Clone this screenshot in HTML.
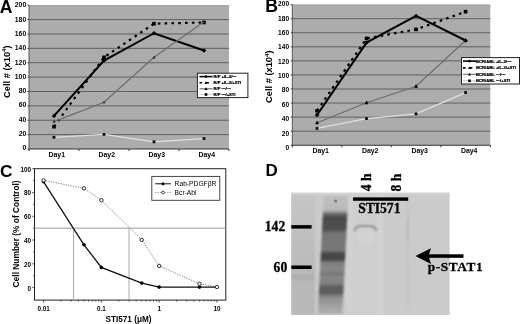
<!DOCTYPE html>
<html><head><meta charset="utf-8"><style>
html,body{margin:0;padding:0;background:#fff;}
svg{display:block;}
</style></head><body>
<svg width="520" height="324" viewBox="0 0 520 324">
<defs><filter id="soft" x="0" y="0" width="100%" height="100%"><feGaussianBlur stdDeviation="0.3"/></filter></defs>
<g filter="url(#soft)">
<rect width="520" height="324" fill="#fff"/>
<text x="-0.3" y="13.0" font-family='"Liberation Sans", Arial, sans-serif' font-weight="bold" font-size="17.6">A</text>
<rect x="29" y="5.2" width="200" height="143.8" fill="#acacac"/>
<line x1="29" y1="5.6000000000000005" x2="229" y2="5.6000000000000005" stroke="#9a9a9a" stroke-width="0.8"/>
<line x1="29" y1="134.62" x2="229" y2="134.62" stroke="#606060" stroke-width="1"/>
<line x1="29" y1="120.24" x2="229" y2="120.24" stroke="#606060" stroke-width="1"/>
<line x1="29" y1="105.86" x2="229" y2="105.86" stroke="#606060" stroke-width="1"/>
<line x1="29" y1="91.48" x2="229" y2="91.48" stroke="#606060" stroke-width="1"/>
<line x1="29" y1="77.10" x2="229" y2="77.10" stroke="#606060" stroke-width="1"/>
<line x1="29" y1="62.72" x2="229" y2="62.72" stroke="#606060" stroke-width="1"/>
<line x1="29" y1="48.34" x2="229" y2="48.34" stroke="#606060" stroke-width="1"/>
<line x1="29" y1="33.96" x2="229" y2="33.96" stroke="#606060" stroke-width="1"/>
<line x1="29" y1="19.58" x2="229" y2="19.58" stroke="#606060" stroke-width="1"/>
<line x1="29" y1="5.2" x2="29" y2="149" stroke="#555" stroke-width="1"/>
<line x1="29" y1="149" x2="229" y2="149" stroke="#333" stroke-width="1.2"/>
<line x1="27.5" y1="149.00" x2="29" y2="149.00" stroke="#333" stroke-width="1"/>
<text x="26.2" y="150.13" text-anchor="end" font-family='"Liberation Sans", Arial, sans-serif' font-weight="bold" font-size="6.8">0</text>
<line x1="27.5" y1="134.62" x2="29" y2="134.62" stroke="#333" stroke-width="1"/>
<text x="26.2" y="135.86" text-anchor="end" font-family='"Liberation Sans", Arial, sans-serif' font-weight="bold" font-size="6.8">20</text>
<line x1="27.5" y1="120.24" x2="29" y2="120.24" stroke="#333" stroke-width="1"/>
<text x="26.2" y="121.59" text-anchor="end" font-family='"Liberation Sans", Arial, sans-serif' font-weight="bold" font-size="6.8">40</text>
<line x1="27.5" y1="105.86" x2="29" y2="105.86" stroke="#333" stroke-width="1"/>
<text x="26.2" y="107.32" text-anchor="end" font-family='"Liberation Sans", Arial, sans-serif' font-weight="bold" font-size="6.8">60</text>
<line x1="27.5" y1="91.48" x2="29" y2="91.48" stroke="#333" stroke-width="1"/>
<text x="26.2" y="93.05" text-anchor="end" font-family='"Liberation Sans", Arial, sans-serif' font-weight="bold" font-size="6.8">80</text>
<line x1="27.5" y1="77.10" x2="29" y2="77.10" stroke="#333" stroke-width="1"/>
<text x="26.2" y="78.78" text-anchor="end" font-family='"Liberation Sans", Arial, sans-serif' font-weight="bold" font-size="6.8">100</text>
<line x1="27.5" y1="62.72" x2="29" y2="62.72" stroke="#333" stroke-width="1"/>
<text x="26.2" y="64.51" text-anchor="end" font-family='"Liberation Sans", Arial, sans-serif' font-weight="bold" font-size="6.8">120</text>
<line x1="27.5" y1="48.34" x2="29" y2="48.34" stroke="#333" stroke-width="1"/>
<text x="26.2" y="50.24" text-anchor="end" font-family='"Liberation Sans", Arial, sans-serif' font-weight="bold" font-size="6.8">140</text>
<line x1="27.5" y1="33.96" x2="29" y2="33.96" stroke="#333" stroke-width="1"/>
<text x="26.2" y="35.97" text-anchor="end" font-family='"Liberation Sans", Arial, sans-serif' font-weight="bold" font-size="6.8">160</text>
<line x1="27.5" y1="19.58" x2="29" y2="19.58" stroke="#333" stroke-width="1"/>
<text x="26.2" y="21.70" text-anchor="end" font-family='"Liberation Sans", Arial, sans-serif' font-weight="bold" font-size="6.8">180</text>
<line x1="27.5" y1="5.20" x2="29" y2="5.20" stroke="#333" stroke-width="1"/>
<text x="26.2" y="7.43" text-anchor="end" font-family='"Liberation Sans", Arial, sans-serif' font-weight="bold" font-size="6.8">200</text>
<line x1="29.00" y1="149" x2="29.00" y2="151" stroke="#333" stroke-width="1"/>
<line x1="79.00" y1="149" x2="79.00" y2="151" stroke="#333" stroke-width="1"/>
<line x1="129.00" y1="149" x2="129.00" y2="151" stroke="#333" stroke-width="1"/>
<line x1="179.00" y1="149" x2="179.00" y2="151" stroke="#333" stroke-width="1"/>
<line x1="229.00" y1="149" x2="229.00" y2="151" stroke="#333" stroke-width="1"/>
<text x="56.80" y="157" text-anchor="middle" font-family='"Liberation Sans", Arial, sans-serif' font-weight="bold" font-size="6.9">Day1</text>
<text x="106.80" y="157" text-anchor="middle" font-family='"Liberation Sans", Arial, sans-serif' font-weight="bold" font-size="6.9">Day2</text>
<text x="156.80" y="157" text-anchor="middle" font-family='"Liberation Sans", Arial, sans-serif' font-weight="bold" font-size="6.9">Day3</text>
<text x="206.80" y="157" text-anchor="middle" font-family='"Liberation Sans", Arial, sans-serif' font-weight="bold" font-size="6.9">Day4</text>
<text transform="translate(9.8,71.6) rotate(-90)" text-anchor="middle" font-family='"Liberation Sans", Arial, sans-serif' font-weight="bold" font-size="9.3">Cell # (x10<tspan font-size="6.2" dy="-3.8">4</tspan><tspan dy="3.8">)</tspan></text>
<polyline points="54.00,115.93 104.00,60.56 154.00,33.24 204.00,50.50" fill="none" stroke="#000" stroke-width="2.0" stroke-linejoin="miter"/>
<rect x="52.40" y="114.33" width="3.2" height="3.2" fill="#000" transform="rotate(45 54.00 115.93)"/>
<rect x="102.40" y="58.96" width="3.2" height="3.2" fill="#000" transform="rotate(45 104.00 60.56)"/>
<rect x="152.40" y="31.64" width="3.2" height="3.2" fill="#000" transform="rotate(45 154.00 33.24)"/>
<rect x="202.40" y="48.90" width="3.2" height="3.2" fill="#000" transform="rotate(45 204.00 50.50)"/>
<polyline points="54.00,126.71 104.00,57.33 154.00,23.68 204.00,22.46" fill="none" stroke="#000" stroke-width="2.2" stroke-dasharray="2.6,4.2" stroke-linejoin="miter"/>
<rect x="52.20" y="124.91" width="3.6" height="3.6" fill="#000"/>
<rect x="102.20" y="55.53" width="3.6" height="3.6" fill="#000"/>
<rect x="152.20" y="21.88" width="3.6" height="3.6" fill="#000"/>
<rect x="202.20" y="20.66" width="3.6" height="3.6" fill="#000"/>
<polyline points="54.00,121.68 104.00,102.27 154.00,57.33 204.00,21.74" fill="none" stroke="#6c6c6c" stroke-width="1.2" stroke-linejoin="miter"/>
<polygon points="54.00,120.08 55.50,122.78 52.50,122.78" fill="#222"/>
<polygon points="104.00,100.67 105.50,103.36 102.50,103.36" fill="#222"/>
<polygon points="154.00,55.73 155.50,58.43 152.50,58.43" fill="#222"/>
<polygon points="204.00,20.14 205.50,22.84 202.50,22.84" fill="#222"/>
<polyline points="54.00,137.28 104.00,134.40 154.00,141.81 204.00,138.57" fill="none" stroke="#e0e0e0" stroke-width="1.3" stroke-linejoin="miter"/>
<rect x="52.60" y="135.88" width="2.8" height="2.8" fill="#111"/>
<rect x="102.60" y="133.00" width="2.8" height="2.8" fill="#111"/>
<rect x="152.60" y="140.41" width="2.8" height="2.8" fill="#111"/>
<rect x="202.60" y="137.17" width="2.8" height="2.8" fill="#111"/>
<rect x="197.4" y="73.2" width="50.5" height="24.4" fill="#fff" stroke="#222" stroke-width="1"/>
<line x1="199.5" y1="76.6" x2="212.5" y2="76.6" stroke="#000" stroke-width="1.6"/>
<rect x="204.80" y="75.40" width="2.4" height="2.4" fill="#000" transform="rotate(45 206.00 76.60)"/>
<text x="213.6" y="78.08" font-family='"Liberation Sans", Arial, sans-serif' font-weight="bold" font-size="4.1" fill="#000" stroke="#000" stroke-width="0.22">R/P +IL-3/&#8212;</text>
<line x1="199.5" y1="82.8" x2="212.5" y2="82.8" stroke="#000" stroke-width="1.6" stroke-dasharray="2.6,4.2"/>
<polygon points="206.00,81.20 207.50,83.90 204.50,83.90" fill="#000"/>
<text x="213.6" y="84.28" font-family='"Liberation Sans", Arial, sans-serif' font-weight="bold" font-size="4.1" fill="#000" stroke="#000" stroke-width="0.22">R/P +IL-3/+STI</text>
<line x1="199.5" y1="88.8" x2="212.5" y2="88.8" stroke="#6c6c6c" stroke-width="1.2"/>
<polygon points="206.00,87.20 207.50,89.90 204.50,89.90" fill="#000"/>
<text x="213.6" y="90.28" font-family='"Liberation Sans", Arial, sans-serif' font-weight="bold" font-size="4.1" fill="#000" stroke="#000" stroke-width="0.22">R/P &#8212;/&#8212;</text>
<line x1="199.5" y1="94.5" x2="212.5" y2="94.5" stroke="#cfcfcf" stroke-width="1.3"/>
<rect x="204.70" y="93.20" width="2.6" height="2.6" fill="#000"/>
<text x="213.6" y="95.98" font-family='"Liberation Sans", Arial, sans-serif' font-weight="bold" font-size="4.1" fill="#000" stroke="#000" stroke-width="0.22">R/P &#8212;/+STI</text>
<text x="265.3" y="12.3" font-family='"Liberation Sans", Arial, sans-serif' font-weight="bold" font-size="17.6">B</text>
<rect x="292.3" y="4.65" width="198.0" height="140.6" fill="#acacac"/>
<line x1="292.3" y1="5.050000000000001" x2="490.3" y2="5.050000000000001" stroke="#9a9a9a" stroke-width="0.8"/>
<line x1="292.3" y1="131.19" x2="490.3" y2="131.19" stroke="#606060" stroke-width="1"/>
<line x1="292.3" y1="117.13" x2="490.3" y2="117.13" stroke="#606060" stroke-width="1"/>
<line x1="292.3" y1="103.07" x2="490.3" y2="103.07" stroke="#606060" stroke-width="1"/>
<line x1="292.3" y1="89.01" x2="490.3" y2="89.01" stroke="#606060" stroke-width="1"/>
<line x1="292.3" y1="74.95" x2="490.3" y2="74.95" stroke="#606060" stroke-width="1"/>
<line x1="292.3" y1="60.89" x2="490.3" y2="60.89" stroke="#606060" stroke-width="1"/>
<line x1="292.3" y1="46.83" x2="490.3" y2="46.83" stroke="#606060" stroke-width="1"/>
<line x1="292.3" y1="32.77" x2="490.3" y2="32.77" stroke="#606060" stroke-width="1"/>
<line x1="292.3" y1="18.71" x2="490.3" y2="18.71" stroke="#606060" stroke-width="1"/>
<line x1="292.3" y1="4.65" x2="292.3" y2="145.25" stroke="#555" stroke-width="1"/>
<line x1="292.3" y1="145.25" x2="490.3" y2="145.25" stroke="#333" stroke-width="1.2"/>
<line x1="290.8" y1="145.25" x2="292.3" y2="145.25" stroke="#333" stroke-width="1"/>
<text x="289.1" y="149.86" text-anchor="end" font-family='"Liberation Sans", Arial, sans-serif' font-weight="bold" font-size="6.6">0</text>
<line x1="290.8" y1="131.19" x2="292.3" y2="131.19" stroke="#333" stroke-width="1"/>
<text x="289.1" y="135.51" text-anchor="end" font-family='"Liberation Sans", Arial, sans-serif' font-weight="bold" font-size="6.6">20</text>
<line x1="290.8" y1="117.13" x2="292.3" y2="117.13" stroke="#333" stroke-width="1"/>
<text x="289.1" y="121.16" text-anchor="end" font-family='"Liberation Sans", Arial, sans-serif' font-weight="bold" font-size="6.6">40</text>
<line x1="290.8" y1="103.07" x2="292.3" y2="103.07" stroke="#333" stroke-width="1"/>
<text x="289.1" y="106.81" text-anchor="end" font-family='"Liberation Sans", Arial, sans-serif' font-weight="bold" font-size="6.6">60</text>
<line x1="290.8" y1="89.01" x2="292.3" y2="89.01" stroke="#333" stroke-width="1"/>
<text x="289.1" y="92.46" text-anchor="end" font-family='"Liberation Sans", Arial, sans-serif' font-weight="bold" font-size="6.6">80</text>
<line x1="290.8" y1="74.95" x2="292.3" y2="74.95" stroke="#333" stroke-width="1"/>
<text x="289.1" y="78.11" text-anchor="end" font-family='"Liberation Sans", Arial, sans-serif' font-weight="bold" font-size="6.6">100</text>
<line x1="290.8" y1="60.89" x2="292.3" y2="60.89" stroke="#333" stroke-width="1"/>
<text x="289.1" y="63.76" text-anchor="end" font-family='"Liberation Sans", Arial, sans-serif' font-weight="bold" font-size="6.6">120</text>
<line x1="290.8" y1="46.83" x2="292.3" y2="46.83" stroke="#333" stroke-width="1"/>
<text x="289.1" y="49.41" text-anchor="end" font-family='"Liberation Sans", Arial, sans-serif' font-weight="bold" font-size="6.6">140</text>
<line x1="290.8" y1="32.77" x2="292.3" y2="32.77" stroke="#333" stroke-width="1"/>
<text x="289.1" y="35.06" text-anchor="end" font-family='"Liberation Sans", Arial, sans-serif' font-weight="bold" font-size="6.6">160</text>
<line x1="290.8" y1="18.71" x2="292.3" y2="18.71" stroke="#333" stroke-width="1"/>
<text x="289.1" y="20.71" text-anchor="end" font-family='"Liberation Sans", Arial, sans-serif' font-weight="bold" font-size="6.6">180</text>
<line x1="290.8" y1="4.65" x2="292.3" y2="4.65" stroke="#333" stroke-width="1"/>
<text x="289.1" y="6.36" text-anchor="end" font-family='"Liberation Sans", Arial, sans-serif' font-weight="bold" font-size="6.6">200</text>
<line x1="292.30" y1="145.25" x2="292.30" y2="147.25" stroke="#333" stroke-width="1"/>
<line x1="341.80" y1="145.25" x2="341.80" y2="147.25" stroke="#333" stroke-width="1"/>
<line x1="391.30" y1="145.25" x2="391.30" y2="147.25" stroke="#333" stroke-width="1"/>
<line x1="440.80" y1="145.25" x2="440.80" y2="147.25" stroke="#333" stroke-width="1"/>
<line x1="490.30" y1="145.25" x2="490.30" y2="147.25" stroke="#333" stroke-width="1"/>
<text x="320.65" y="153.2" text-anchor="middle" font-family='"Liberation Sans", Arial, sans-serif' font-weight="bold" font-size="6.9">Day1</text>
<text x="370.15" y="153.2" text-anchor="middle" font-family='"Liberation Sans", Arial, sans-serif' font-weight="bold" font-size="6.9">Day2</text>
<text x="419.65" y="153.2" text-anchor="middle" font-family='"Liberation Sans", Arial, sans-serif' font-weight="bold" font-size="6.9">Day3</text>
<text x="469.15" y="153.2" text-anchor="middle" font-family='"Liberation Sans", Arial, sans-serif' font-weight="bold" font-size="6.9">Day4</text>
<text transform="translate(272.4,76.7) rotate(-90)" text-anchor="middle" font-family='"Liberation Sans", Arial, sans-serif' font-weight="bold" font-size="9.3">Cell # (x10<tspan font-size="6.2" dy="-3.8">4</tspan><tspan dy="3.8">)</tspan></text>
<polyline points="317.05,115.02 366.55,42.61 416.05,15.90 465.55,40.50" fill="none" stroke="#000" stroke-width="2.0" stroke-linejoin="miter"/>
<rect x="315.45" y="113.42" width="3.2" height="3.2" fill="#000" transform="rotate(45 317.05 115.02)"/>
<rect x="364.95" y="41.01" width="3.2" height="3.2" fill="#000" transform="rotate(45 366.55 42.61)"/>
<rect x="414.45" y="14.30" width="3.2" height="3.2" fill="#000" transform="rotate(45 416.05 15.90)"/>
<rect x="463.95" y="38.90" width="3.2" height="3.2" fill="#000" transform="rotate(45 465.55 40.50)"/>
<polyline points="317.05,110.80 366.55,38.39 416.05,29.40 465.55,11.68" fill="none" stroke="#000" stroke-width="2.2" stroke-dasharray="2.6,4.2" stroke-linejoin="miter"/>
<rect x="315.25" y="109.00" width="3.6" height="3.6" fill="#000"/>
<rect x="364.75" y="36.59" width="3.6" height="3.6" fill="#000"/>
<rect x="414.25" y="27.60" width="3.6" height="3.6" fill="#000"/>
<rect x="463.75" y="9.88" width="3.6" height="3.6" fill="#000"/>
<polyline points="317.05,122.75 366.55,102.72 416.05,86.20 465.55,40.50" fill="none" stroke="#6a6a6a" stroke-width="1.1" stroke-linejoin="miter"/>
<polygon points="317.05,120.55 319.05,124.25 315.05,124.25" fill="#000"/>
<polygon points="366.55,100.52 368.55,104.22 364.55,104.22" fill="#000"/>
<polygon points="416.05,84.00 418.05,87.70 414.05,87.70" fill="#000"/>
<polygon points="465.55,38.30 467.55,42.00 463.55,42.00" fill="#000"/>
<polyline points="317.05,128.38 366.55,118.54 416.05,113.90 465.55,92.53" fill="none" stroke="#e0e0e0" stroke-width="1.3" stroke-linejoin="miter"/>
<rect x="315.65" y="126.98" width="2.8" height="2.8" fill="#111"/>
<rect x="365.15" y="117.14" width="2.8" height="2.8" fill="#111"/>
<rect x="414.65" y="112.50" width="2.8" height="2.8" fill="#111"/>
<rect x="464.15" y="91.12" width="2.8" height="2.8" fill="#111"/>
<rect x="461.5" y="57.6" width="58" height="26.4" fill="#fff" stroke="#222" stroke-width="1"/>
<line x1="463" y1="61.1" x2="476" y2="61.1" stroke="#000" stroke-width="1.6"/>
<rect x="468.30" y="59.90" width="2.4" height="2.4" fill="#000" transform="rotate(45 469.50 61.10)"/>
<text x="476" y="62.61" font-family='"Liberation Sans", Arial, sans-serif' font-weight="bold" font-size="4.2" fill="#000" stroke="#000" stroke-width="0.22">BCR/ABL +IL-3/&#8212;</text>
<line x1="463" y1="67.9" x2="476" y2="67.9" stroke="#000" stroke-width="1.6" stroke-dasharray="2.6,4.2"/>
<polygon points="469.50,66.30 471.00,69.00 468.00,69.00" fill="#000"/>
<text x="476" y="69.41" font-family='"Liberation Sans", Arial, sans-serif' font-weight="bold" font-size="4.2" fill="#000" stroke="#000" stroke-width="0.22">BCR/ABL +IL-3/+STI</text>
<line x1="463" y1="74.3" x2="476" y2="74.3" stroke="#6a6a6a" stroke-width="1.1"/>
<polygon points="469.50,72.70 471.00,75.40 468.00,75.40" fill="#000"/>
<text x="476" y="75.81" font-family='"Liberation Sans", Arial, sans-serif' font-weight="bold" font-size="4.2" fill="#000" stroke="#000" stroke-width="0.22">BCR/ABL &#8212;/&#8212;</text>
<line x1="463" y1="80.8" x2="476" y2="80.8" stroke="#cfcfcf" stroke-width="1.3"/>
<rect x="468.20" y="79.50" width="2.6" height="2.6" fill="#000"/>
<text x="476" y="82.31" font-family='"Liberation Sans", Arial, sans-serif' font-weight="bold" font-size="4.2" fill="#000" stroke="#000" stroke-width="0.22">BCR/ABL &#8212;/+STI</text>
<text x="-0.1" y="176.7" font-family='"Liberation Sans", Arial, sans-serif' font-weight="bold" font-size="17.3">C</text>
<rect x="34.5" y="168.7" width="191.3" height="131.40000000000003" fill="#fff" stroke="#222" stroke-width="1"/>
<line x1="34.5" y1="228.15" x2="225.8" y2="228.15" stroke="#9a9a9a" stroke-width="1"/>
<line x1="73.6" y1="228.15" x2="73.6" y2="300.1" stroke="#a8a8a8" stroke-width="1"/>
<line x1="129.0" y1="228.15" x2="129.0" y2="300.1" stroke="#a8a8a8" stroke-width="1"/>
<line x1="32.30" y1="287.60" x2="34.5" y2="287.60" stroke="#222" stroke-width="0.8"/>
<text x="31" y="290.50" text-anchor="end" font-family='"Liberation Sans", Arial, sans-serif' font-weight="bold" font-size="6.3">0</text>
<line x1="33.20" y1="275.71" x2="34.5" y2="275.71" stroke="#222" stroke-width="0.8"/>
<line x1="32.30" y1="263.82" x2="34.5" y2="263.82" stroke="#222" stroke-width="0.8"/>
<text x="31" y="266.72" text-anchor="end" font-family='"Liberation Sans", Arial, sans-serif' font-weight="bold" font-size="6.3">20</text>
<line x1="33.20" y1="251.93" x2="34.5" y2="251.93" stroke="#222" stroke-width="0.8"/>
<line x1="32.30" y1="240.04" x2="34.5" y2="240.04" stroke="#222" stroke-width="0.8"/>
<text x="31" y="242.94" text-anchor="end" font-family='"Liberation Sans", Arial, sans-serif' font-weight="bold" font-size="6.3">40</text>
<line x1="33.20" y1="228.15" x2="34.5" y2="228.15" stroke="#222" stroke-width="0.8"/>
<line x1="32.30" y1="216.26" x2="34.5" y2="216.26" stroke="#222" stroke-width="0.8"/>
<text x="31" y="219.16" text-anchor="end" font-family='"Liberation Sans", Arial, sans-serif' font-weight="bold" font-size="6.3">60</text>
<line x1="33.20" y1="204.37" x2="34.5" y2="204.37" stroke="#222" stroke-width="0.8"/>
<line x1="32.30" y1="192.48" x2="34.5" y2="192.48" stroke="#222" stroke-width="0.8"/>
<text x="31" y="195.38" text-anchor="end" font-family='"Liberation Sans", Arial, sans-serif' font-weight="bold" font-size="6.3">80</text>
<line x1="33.20" y1="180.59" x2="34.5" y2="180.59" stroke="#222" stroke-width="0.8"/>
<line x1="32.30" y1="168.70" x2="34.5" y2="168.70" stroke="#222" stroke-width="0.8"/>
<text x="31" y="171.60" text-anchor="end" font-family='"Liberation Sans", Arial, sans-serif' font-weight="bold" font-size="6.3">100</text>
<line x1="43.60" y1="300.1" x2="43.60" y2="302.5" stroke="#222" stroke-width="0.8"/>
<line x1="60.99" y1="300.1" x2="60.99" y2="301.5" stroke="#222" stroke-width="0.8"/>
<line x1="71.16" y1="300.1" x2="71.16" y2="301.5" stroke="#222" stroke-width="0.8"/>
<line x1="78.38" y1="300.1" x2="78.38" y2="301.5" stroke="#222" stroke-width="0.8"/>
<line x1="83.98" y1="300.1" x2="83.98" y2="301.5" stroke="#222" stroke-width="0.8"/>
<line x1="88.55" y1="300.1" x2="88.55" y2="301.5" stroke="#222" stroke-width="0.8"/>
<line x1="92.42" y1="300.1" x2="92.42" y2="301.5" stroke="#222" stroke-width="0.8"/>
<line x1="95.77" y1="300.1" x2="95.77" y2="301.5" stroke="#222" stroke-width="0.8"/>
<line x1="98.73" y1="300.1" x2="98.73" y2="301.5" stroke="#222" stroke-width="0.8"/>
<line x1="101.37" y1="300.1" x2="101.37" y2="302.5" stroke="#222" stroke-width="0.8"/>
<line x1="118.76" y1="300.1" x2="118.76" y2="301.5" stroke="#222" stroke-width="0.8"/>
<line x1="128.93" y1="300.1" x2="128.93" y2="301.5" stroke="#222" stroke-width="0.8"/>
<line x1="136.15" y1="300.1" x2="136.15" y2="301.5" stroke="#222" stroke-width="0.8"/>
<line x1="141.75" y1="300.1" x2="141.75" y2="301.5" stroke="#222" stroke-width="0.8"/>
<line x1="146.32" y1="300.1" x2="146.32" y2="301.5" stroke="#222" stroke-width="0.8"/>
<line x1="150.19" y1="300.1" x2="150.19" y2="301.5" stroke="#222" stroke-width="0.8"/>
<line x1="153.54" y1="300.1" x2="153.54" y2="301.5" stroke="#222" stroke-width="0.8"/>
<line x1="156.50" y1="300.1" x2="156.50" y2="301.5" stroke="#222" stroke-width="0.8"/>
<line x1="159.14" y1="300.1" x2="159.14" y2="302.5" stroke="#222" stroke-width="0.8"/>
<line x1="176.53" y1="300.1" x2="176.53" y2="301.5" stroke="#222" stroke-width="0.8"/>
<line x1="186.70" y1="300.1" x2="186.70" y2="301.5" stroke="#222" stroke-width="0.8"/>
<line x1="193.92" y1="300.1" x2="193.92" y2="301.5" stroke="#222" stroke-width="0.8"/>
<line x1="199.52" y1="300.1" x2="199.52" y2="301.5" stroke="#222" stroke-width="0.8"/>
<line x1="204.09" y1="300.1" x2="204.09" y2="301.5" stroke="#222" stroke-width="0.8"/>
<line x1="207.96" y1="300.1" x2="207.96" y2="301.5" stroke="#222" stroke-width="0.8"/>
<line x1="211.31" y1="300.1" x2="211.31" y2="301.5" stroke="#222" stroke-width="0.8"/>
<line x1="214.27" y1="300.1" x2="214.27" y2="301.5" stroke="#222" stroke-width="0.8"/>
<line x1="216.91" y1="300.1" x2="216.91" y2="302.5" stroke="#222" stroke-width="0.8"/>
<text x="43.60" y="310.9" text-anchor="middle" font-family='"Liberation Sans", Arial, sans-serif' font-weight="bold" font-size="6.3">0.01</text>
<text x="101.37" y="310.9" text-anchor="middle" font-family='"Liberation Sans", Arial, sans-serif' font-weight="bold" font-size="6.3">0.1</text>
<text x="159.14" y="310.9" text-anchor="middle" font-family='"Liberation Sans", Arial, sans-serif' font-weight="bold" font-size="6.3">1</text>
<text x="216.91" y="310.9" text-anchor="middle" font-family='"Liberation Sans", Arial, sans-serif' font-weight="bold" font-size="6.3">10</text>
<text x="128.5" y="321.5" text-anchor="middle" font-family='"Liberation Sans", Arial, sans-serif' font-weight="bold" font-size="8.2">STI571 (&#956;M)</text>
<text transform="translate(18.6,233.9) rotate(-90)" text-anchor="middle" font-family='"Liberation Sans", Arial, sans-serif' font-weight="bold" font-size="8.4">Cell Number (% of Control)</text>
<polyline points="43.60,180.35 83.98,188.32 101.37,200.21 141.75,239.92 159.14,265.84 199.52,283.80 216.91,287.01" fill="none" stroke="#7a7a7a" stroke-width="1" stroke-dasharray="1.2,1.3"/>
<polyline points="43.60,181.78 83.98,244.80 101.37,267.39 141.75,283.08 159.14,287.12 199.52,287.12 216.91,287.12" fill="none" stroke="#111" stroke-width="1.3"/>
<circle cx="43.60" cy="181.78" r="1.8" fill="#000"/>
<circle cx="83.98" cy="244.80" r="1.8" fill="#000"/>
<circle cx="101.37" cy="267.39" r="1.8" fill="#000"/>
<circle cx="141.75" cy="283.08" r="1.8" fill="#000"/>
<circle cx="159.14" cy="287.12" r="1.8" fill="#000"/>
<circle cx="199.52" cy="287.12" r="1.8" fill="#000"/>
<circle cx="43.60" cy="180.35" r="1.7" fill="#fff" stroke="#222" stroke-width="0.95"/>
<circle cx="83.98" cy="188.32" r="1.7" fill="#fff" stroke="#222" stroke-width="0.95"/>
<circle cx="101.37" cy="200.21" r="1.7" fill="#fff" stroke="#222" stroke-width="0.95"/>
<circle cx="141.75" cy="239.92" r="1.7" fill="#fff" stroke="#222" stroke-width="0.95"/>
<circle cx="159.14" cy="265.84" r="1.7" fill="#fff" stroke="#222" stroke-width="0.95"/>
<circle cx="199.52" cy="283.80" r="1.7" fill="#fff" stroke="#222" stroke-width="0.95"/>
<circle cx="216.91" cy="287.01" r="1.7" fill="#fff" stroke="#222" stroke-width="0.95"/>
<rect x="151.8" y="176.4" width="68" height="23.9" fill="#fff" stroke="#333" stroke-width="0.9"/>
<line x1="155.2" y1="183.8" x2="170.8" y2="183.8" stroke="#111" stroke-width="1"/>
<circle cx="163" cy="183.8" r="1.5" fill="#000"/>
<line x1="155.2" y1="192.5" x2="170.8" y2="192.5" stroke="#8a8a8a" stroke-width="0.9" stroke-dasharray="1.2,1.2"/>
<circle cx="163" cy="192.5" r="1.4" fill="#fff" stroke="#222" stroke-width="0.8"/>
<text x="174.6" y="186.4" font-family='"Liberation Sans", Arial, sans-serif' font-size="6.7">Rab-PDGF&#946;R</text>
<text x="174.6" y="195.1" font-family='"Liberation Sans", Arial, sans-serif' font-size="6.7">Bcr-Abl</text>
<text x="265.6" y="176.2" font-family='"Liberation Sans", Arial, sans-serif' font-weight="bold" font-size="17">D</text>

<defs>
 <linearGradient id="lane2" x1="0" y1="192.8" x2="0" y2="315" gradientUnits="userSpaceOnUse">
  <stop offset="0.000" stop-color="#c0c0c0"/>
  <stop offset="0.141" stop-color="#bababa"/>
  <stop offset="0.173" stop-color="#6a6a6a"/>
  <stop offset="0.198" stop-color="#4c4c4c"/>
  <stop offset="0.296" stop-color="#4e4e4e"/>
  <stop offset="0.333" stop-color="#747474"/>
  <stop offset="0.468" stop-color="#787878"/>
  <stop offset="0.501" stop-color="#464646"/>
  <stop offset="0.542" stop-color="#424242"/>
  <stop offset="0.574" stop-color="#808080"/>
  <stop offset="0.632" stop-color="#888888"/>
  <stop offset="0.664" stop-color="#777777"/>
  <stop offset="0.697" stop-color="#888888"/>
  <stop offset="0.746" stop-color="#7e7e7e"/>
  <stop offset="0.771" stop-color="#5c5c5c"/>
  <stop offset="0.820" stop-color="#5c5c5c"/>
  <stop offset="0.853" stop-color="#8c8c8c"/>
  <stop offset="0.926" stop-color="#a2a2a2"/>
  <stop offset="1.000" stop-color="#b4b4b4"/>
 </linearGradient>
 <linearGradient id="lane1" x1="0" y1="192.8" x2="0" y2="315" gradientUnits="userSpaceOnUse">
  <stop offset="0" stop-color="#c6c6c6"/>
  <stop offset="0.3" stop-color="#c0c0c0"/>
  <stop offset="0.6" stop-color="#bababa"/>
  <stop offset="0.66" stop-color="#b6b6b6"/>
  <stop offset="0.69" stop-color="#acacac"/>
  <stop offset="0.73" stop-color="#b8b8b8"/>
  <stop offset="1" stop-color="#b8b8b8"/>
 </linearGradient>
 <clipPath id="blotclip"><rect x="291.2" y="192.8" width="158.3" height="122.2"/></clipPath>
 <filter id="bl1" x="-30%" y="-10%" width="160%" height="120%"><feGaussianBlur stdDeviation="1.3"/></filter>
 <filter id="bl2" x="-30%" y="-30%" width="160%" height="160%"><feGaussianBlur stdDeviation="1.0"/></filter>
</defs>
<rect x="291.2" y="192.8" width="158.3" height="122.2" fill="#cbcbcb"/>
<g clip-path="url(#blotclip)"><g filter="url(#bl2)">
<rect x="291.2" y="192.8" width="24" height="122.2" fill="url(#lane1)"/>
<rect x="315" y="192.8" width="5" height="122.2" fill="#cacaca"/>
<rect x="346" y="192.8" width="7" height="122.2" fill="#d1d1d1"/>
<rect x="353" y="192.8" width="24.5" height="122.2" fill="#cecece"/>
<rect x="377.5" y="192.8" width="6" height="122.2" fill="#d3d3d3"/>
<rect x="383.5" y="192.8" width="23.5" height="122.2" fill="#cbcbcb"/>
<rect x="407" y="200" width="1.5" height="110" fill="#c2c2c2"/>
<rect x="407.3" y="218" width="1.6" height="22" fill="#a8a8a8"/>
<rect x="408.5" y="192.8" width="41" height="122.2" fill="#cbcbcb"/>
<ellipse cx="365.5" cy="237" rx="10" ry="8" fill="#d3d3d3"/>
<path d="M354.3,231 Q355,226 362,226 L369,226 Q376,226 376.3,231" fill="none" stroke="#888" stroke-width="2"/>
</g></g>
<rect x="291.2" y="192.8" width="158.3" height="2" fill="#d2d2d2"/>
<g clip-path="url(#blotclip)"><g filter="url(#bl1)"><rect x="321" y="196" width="24.5" height="118" fill="url(#lane2)" transform="matrix(1 0 -0.05 1 12.5 0)"/></g></g>
<circle cx="335.6" cy="201" r="1.5" fill="#777777"/>

<rect x="291.3" y="225.1" width="20.3" height="3.5" fill="#000"/>
<rect x="291.3" y="265.5" width="20.3" height="3.5" fill="#000"/>
<text transform="translate(285.2,231.3) scale(1,1.1)" text-anchor="end" font-family='"Liberation Serif", "Times New Roman", serif' font-weight="bold" stroke="#000" stroke-width="0.3" font-size="13.6">142</text>
<text transform="translate(287.2,272.1) scale(1,1.1)" text-anchor="end" font-family='"Liberation Serif", "Times New Roman", serif' font-weight="bold" stroke="#000" stroke-width="0.3" font-size="13.6">60</text>
<rect x="353" y="197.4" width="55.2" height="3.4" fill="#000"/>
<text x="379.3" y="213.1" text-anchor="middle" font-family='"Liberation Serif", "Times New Roman", serif' font-weight="bold" stroke="#000" stroke-width="0.3" font-size="13.6">STI571</text>
<text transform="translate(370.9,182.3) rotate(-90)" text-anchor="middle" font-family='"Liberation Serif", "Times New Roman", serif' font-weight="bold" stroke="#000" stroke-width="0.3" font-size="13.6">4 h</text>
<text transform="translate(401.3,182.5) rotate(-90)" text-anchor="middle" font-family='"Liberation Serif", "Times New Roman", serif' font-weight="bold" stroke="#000" stroke-width="0.3" font-size="13.6">8 h</text>
<rect x="428" y="254.3" width="35.5" height="3.5" fill="#000"/>
<polygon points="415.4,256.1 431,248.2 428.5,256.1 431,264" fill="#000"/>
<text x="427.8" y="270.8" font-family='"Liberation Serif", "Times New Roman", serif' font-weight="bold" stroke="#000" stroke-width="0.3" font-size="13.3" letter-spacing="0.6">p-STAT1</text>
</g>
</svg>
</body></html>
